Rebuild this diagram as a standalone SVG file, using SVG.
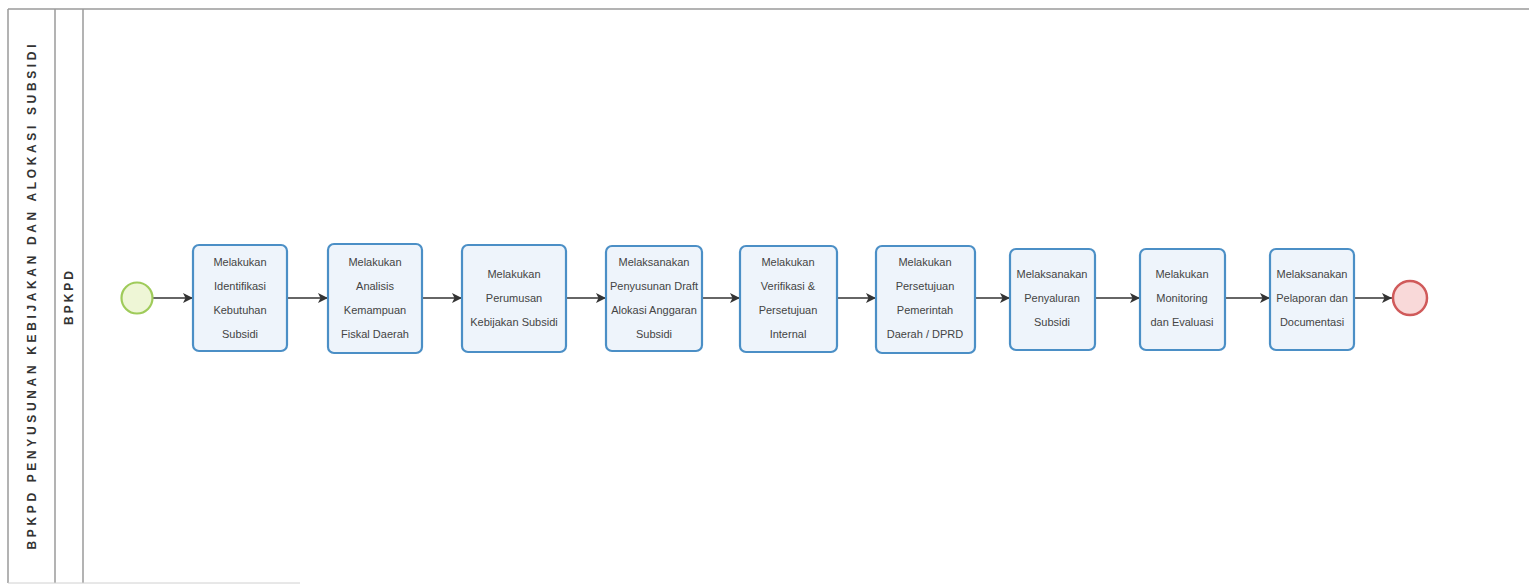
<svg xmlns="http://www.w3.org/2000/svg" width="1529" height="587" viewBox="0 0 1529 587">
<style>
.frame{fill:none;stroke:#9a9a9a;stroke-width:1.5}
.task{fill:#eef4fb;stroke:#4b8fc6;stroke-width:2.2}
.lbl{font-family:"Liberation Sans",Arial,sans-serif;font-size:11px;fill:#444;text-anchor:middle}
.pool{font-family:"Liberation Sans",Arial,sans-serif;font-size:12px;font-weight:bold;fill:#333;text-anchor:middle}
.flow{stroke:#333;stroke-width:1.6;fill:none;marker-end:url(#arr)}
</style>
<defs>
<marker id="arr" viewBox="0 0 10 10" refX="10" refY="5" markerWidth="10" markerHeight="10" orient="auto" markerUnits="userSpaceOnUse">
<path d="M0,0 L10,5 L0,10 L2.5,5 Z" fill="#333"/>
</marker>
</defs>
<rect width="1529" height="587" fill="#fff"/>
<g id="pool">
<line class="frame" x1="8" y1="9" x2="1529" y2="9"/>
<line class="frame" x1="8" y1="9" x2="8" y2="583"/>
<line class="frame" x1="55" y1="9" x2="55" y2="583"/>
<line class="frame" x1="83" y1="9" x2="83" y2="583"/>
<line x1="8" y1="583" x2="300" y2="583" stroke="#d0d0d0" stroke-width="1"/>
<text class="pool" transform="translate(36,297) rotate(-90)" textLength="505" lengthAdjust="spacing">BPKPD PENYUSUNAN KEBIJAKAN DAN ALOKASI SUBSIDI</text>
<text class="pool" transform="translate(73,298) rotate(-90)" textLength="54" lengthAdjust="spacing">BPKPD</text>
</g>
<g id="connectors">
<line class="flow" x1="153" y1="298" x2="193" y2="298"/>
<line class="flow" x1="288" y1="298" x2="328" y2="298"/>
<line class="flow" x1="423" y1="298" x2="462" y2="298"/>
<line class="flow" x1="567" y1="298" x2="606" y2="298"/>
<line class="flow" x1="703" y1="298" x2="740" y2="298"/>
<line class="flow" x1="838" y1="298" x2="876" y2="298"/>
<line class="flow" x1="976" y1="298" x2="1010" y2="298"/>
<line class="flow" x1="1096" y1="298" x2="1140" y2="298"/>
<line class="flow" x1="1226" y1="298" x2="1270" y2="298"/>
<line class="flow" x1="1355" y1="298" x2="1392" y2="298"/>
</g>
<g id="start"><circle cx="137" cy="298" r="15.5" fill="#eef6d6" stroke="#9fcb5a" stroke-width="2.2"/></g>
<g id="t1"><rect class="task" x="193" y="245" width="94" height="106" rx="6"/>
<text class="lbl" x="240" y="266">Melakukan</text><text class="lbl" x="240" y="290">Identifikasi</text><text class="lbl" x="240" y="314">Kebutuhan</text><text class="lbl" x="240" y="338">Subsidi</text></g>
<g id="t2"><rect class="task" x="328" y="244" width="94" height="109" rx="6"/>
<text class="lbl" x="375" y="266">Melakukan</text><text class="lbl" x="375" y="290">Analisis</text><text class="lbl" x="375" y="314">Kemampuan</text><text class="lbl" x="375" y="338">Fiskal Daerah</text></g>
<g id="t3"><rect class="task" x="462" y="245" width="104" height="107" rx="6"/>
<text class="lbl" x="514" y="278">Melakukan</text><text class="lbl" x="514" y="302">Perumusan</text><text class="lbl" x="514" y="326">Kebijakan Subsidi</text></g>
<g id="t4"><rect class="task" x="606" y="246" width="96" height="105" rx="6"/>
<text class="lbl" x="654" y="266">Melaksanakan</text><text class="lbl" x="654" y="290">Penyusunan Draft</text><text class="lbl" x="654" y="314">Alokasi Anggaran</text><text class="lbl" x="654" y="338">Subsidi</text></g>
<g id="t5"><rect class="task" x="740" y="246" width="97" height="106" rx="6"/>
<text class="lbl" x="788" y="266">Melakukan</text><text class="lbl" x="788" y="290">Verifikasi &amp;</text><text class="lbl" x="788" y="314">Persetujuan</text><text class="lbl" x="788" y="338">Internal</text></g>
<g id="t6"><rect class="task" x="876" y="246" width="99" height="107" rx="6"/>
<text class="lbl" x="925" y="266">Melakukan</text><text class="lbl" x="925" y="290">Persetujuan</text><text class="lbl" x="925" y="314">Pemerintah</text><text class="lbl" x="925" y="338">Daerah / DPRD</text></g>
<g id="t7"><rect class="task" x="1010" y="249" width="85" height="101" rx="6"/>
<text class="lbl" x="1052" y="278">Melaksanakan</text><text class="lbl" x="1052" y="302">Penyaluran</text><text class="lbl" x="1052" y="326">Subsidi</text></g>
<g id="t8"><rect class="task" x="1140" y="249" width="85" height="101" rx="6"/>
<text class="lbl" x="1182" y="278">Melakukan</text><text class="lbl" x="1182" y="302">Monitoring</text><text class="lbl" x="1182" y="326">dan Evaluasi</text></g>
<g id="t9"><rect class="task" x="1270" y="249" width="84" height="101" rx="6"/>
<text class="lbl" x="1312" y="278">Melaksanakan</text><text class="lbl" x="1312" y="302">Pelaporan dan</text><text class="lbl" x="1312" y="326">Documentasi</text></g>
<g id="end"><circle cx="1410" cy="298" r="17" fill="#f9d9d9" stroke="#d05a5a" stroke-width="2.5"/></g>
</svg>
